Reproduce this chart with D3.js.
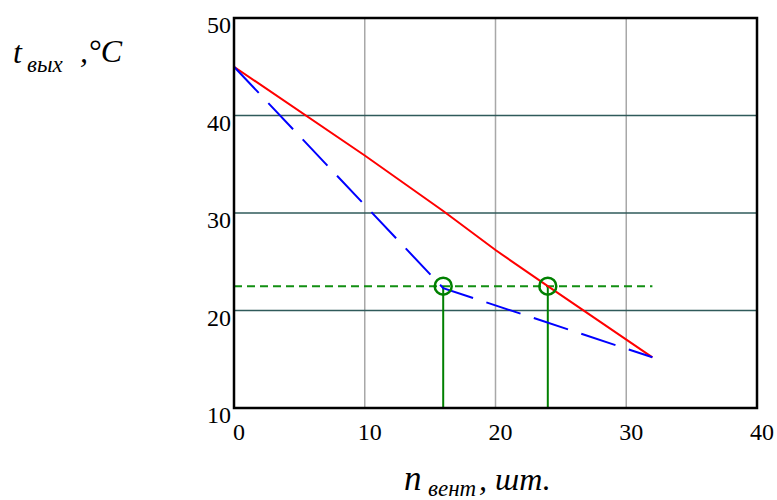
<!DOCTYPE html>
<html lang="ru">
<head>
<meta charset="UTF-8">
<title>t вых от n вент</title>
<script src="https://d3js.org/d3.v7.min.js"></script>
<style>
  body { margin: 0; background: #fff; }
</style>
</head>
<body>
<script>
// values
var xTicks = [0, 10, 20, 30, 40];
var yTicks = [10, 20, 30, 40, 50];

// red curve (solid)
var nRed = [0, 10, 16, 20, 24, 32];
var tRed = [45, 35.9, 30.2, 26.2, 22.5, 15.2];

// blue curve (dashed)
var nBlue = [0, 16, 32];
var tBlue = [45, 22.3, 15.2];

// required outlet temperature and the two crossing points
var tLevel = 22.5;
var nLevelEnd = 32;
var nCross = [16, 24];

var width = 777, height = 500;
var serif = "'Liberation Serif', 'Times New Roman', Tinos, 'DejaVu Serif', serif";

var svg = d3.select("body").append("svg")
  .attr("width", width)
  .attr("height", height)
  .attr("font-family", serif);

var x = d3.scaleLinear().domain([0, 40]).range([234, 757]);
var y = d3.scaleLinear().domain([10, 50]).range([408, 18]);

// grid
svg.append("g").selectAll("line")
  .data(xTicks.slice(1, -1))
  .enter().append("line")
  .attr("x1", d => x(d)).attr("x2", d => x(d))
  .attr("y1", y(10)).attr("y2", y(50))
  .attr("stroke", "#a8a8a8").attr("stroke-width", 1.5);

svg.append("g").selectAll("line")
  .data(yTicks.slice(1, -1))
  .enter().append("line")
  .attr("x1", x(0)).attr("x2", x(40))
  .attr("y1", d => y(d)).attr("y2", d => y(d))
  .attr("stroke", "#2f5a5a").attr("stroke-width", 1.3);

var line = d3.line().x(d => x(d[0])).y(d => y(d[1]));

// level line
svg.append("path")
  .datum([[0, tLevel], [nLevelEnd, tLevel]])
  .attr("d", line)
  .attr("fill", "none")
  .attr("stroke", "#128f12").attr("stroke-width", 2)
  .attr("stroke-dasharray", "8,5");

// drop lines from the crossings
svg.append("g").selectAll("line")
  .data(nCross)
  .enter().append("line")
  .attr("x1", d => x(d)).attr("x2", d => x(d))
  .attr("y1", y(tLevel)).attr("y2", y(10))
  .attr("stroke", "#008000").attr("stroke-width", 2);

// red
svg.append("path")
  .datum(d3.zip(nRed, tRed))
  .attr("d", line)
  .attr("fill", "none")
  .attr("stroke", "#ff0000").attr("stroke-width", 2);

// blue
svg.append("path")
  .datum(d3.zip(nBlue, tBlue))
  .attr("d", line)
  .attr("fill", "none")
  .attr("stroke", "#0000ff").attr("stroke-width", 2)
  .attr("stroke-dasharray", "36,14");

// circles
svg.append("g").selectAll("circle")
  .data(nCross)
  .enter().append("circle")
  .attr("cx", d => x(d)).attr("cy", y(tLevel))
  .attr("r", 8.5)
  .attr("fill", "none")
  .attr("stroke", "#008000").attr("stroke-width", 2.5);

// frame
svg.append("rect")
  .attr("x", x(0)).attr("y", y(50))
  .attr("width", x(40) - x(0)).attr("height", y(10) - y(50))
  .attr("fill", "none")
  .attr("stroke", "#000").attr("stroke-width", 2.5);

// tick labels
svg.append("g").selectAll("text")
  .data(xTicks)
  .enter().append("text")
  .attr("x", d => x(d) + 5).attr("y", 440)
  .attr("text-anchor", "middle")
  .attr("font-size", 24)
  .text(d => d);

svg.append("g").selectAll("text")
  .data(yTicks)
  .enter().append("text")
  .attr("x", 231).attr("y", d => y(d) + 15)
  .attr("text-anchor", "end")
  .attr("font-size", 24)
  .text(d => d);

function label(px, py, size, str) {
  svg.append("text")
    .attr("x", px).attr("y", py)
    .attr("font-size", size)
    .attr("font-style", "italic")
    .text(str);
}

// y title
label(13, 63, 32, "t");
label(27, 72, 23, "вых");
label(80, 62, 32, ",°C");

// x title
label(404, 490, 35, "n");
label(428, 496, 23, "вент");
label(479, 490, 32, ", шт.");
</script>
</body>
</html>
